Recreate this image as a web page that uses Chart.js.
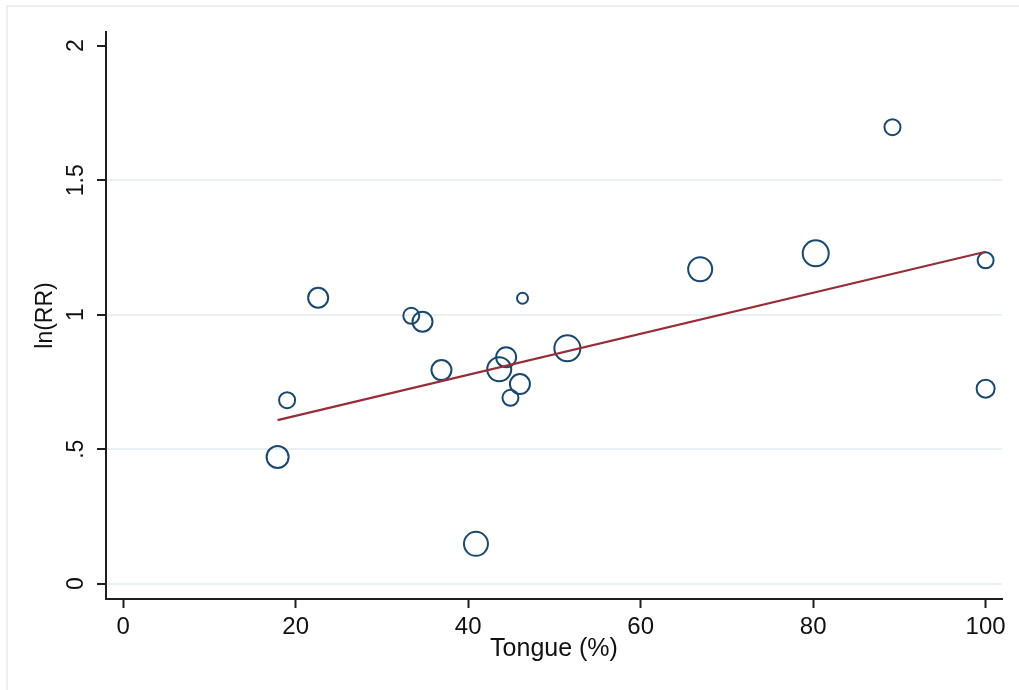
<!DOCTYPE html>
<html>
<head>
<meta charset="utf-8">
<title>ln(RR) vs Tongue (%)</title>
<script src="https://cdn.jsdelivr.net/npm/chart.js@4/dist/chart.umd.min.js"></script>
<style>
    html, body { margin: 0; padding: 0; background: #ffffff; }
    canvas { display: block; }
</style>
</head>
<body>
<canvas id="chart" width="1019" height="690"></canvas>
<script>
// Study points: tongue involvement (%) against ln(RR), bubble size from study weight
const tongue = [17.9, 19.0, 22.6, 33.4, 34.7, 36.9, 40.9, 43.6, 44.4, 44.9, 46.0, 46.3, 51.5, 66.9, 80.3, 89.2, 100, 100];
const lnRR = [0.471, 0.682, 1.063, 0.996, 0.974, 0.794, 0.148, 0.797, 0.842, 0.691, 0.742, 1.061, 0.875, 1.169, 1.228, 1.697, 1.202, 0.725];
const weights = [121, 64, 100, 64, 100, 100, 144, 144, 100, 64, 100, 30, 169, 144, 169, 64, 64, 81];

// Fitted meta-regression line (end points)
const fitX = [17.9, 100];
const fitY = [0.608, 1.234];

// Axis ticks
const xTicks = [0, 20, 40, 60, 80, 100];
const yTicks = [0, 0.5, 1, 1.5, 2];
const yTickLabels = ["0", ".5", "1", "1.5", "2"];

const family = "'Liberation Sans', Arial, sans-serif";
const axisColor = "#1e1e1e";
const textColor = "#111111";

const bubbles = tongue.map((x, i) => ({ x: x, y: lnRR[i], r: Math.sqrt(weights[i]) }));
const fitLine = fitX.map((x, i) => ({ x: x, y: fitY[i] }));

// Light frame round the graph region
const framePlugin = {
    id: "frame",
    beforeDraw(chart) {
        const ctx = chart.ctx;
        ctx.save();
        ctx.strokeStyle = "#e2eaf0";
        ctx.lineWidth = 1.5;
        ctx.strokeRect(7, 6, chart.width + 20, chart.height + 20);
        ctx.restore();
    }
};

new Chart(document.getElementById("chart"), {
    type: "bubble",
    data: {
        datasets: [
            {
                type: "line",
                data: fitLine,
                borderColor: "#962d38",
                borderWidth: 2.2,
                pointRadius: 0,
                fill: false
            },
            {
                data: bubbles,
                borderColor: "#1a476f",
                borderWidth: 2,
                backgroundColor: "rgba(0,0,0,0)"
            }
        ]
    },
    options: {
        responsive: false,
        animation: false,
        devicePixelRatio: 1,
        layout: { padding: { left: 0, right: 17, top: 32, bottom: 0 } },
        plugins: {
            legend: { display: false },
            tooltip: { enabled: false }
        },
        scales: {
            x: {
                type: "linear",
                min: -2.0,
                max: 101.9,
                afterFit(scale) { scale.height = 91; },
                afterBuildTicks(scale) { scale.ticks = xTicks.map(v => ({ value: v })); },
                border: { display: true, color: axisColor, width: 2 },
                grid: {
                    drawOnChartArea: false,
                    drawTicks: true,
                    tickLength: 9,
                    tickColor: axisColor,
                    tickWidth: 2
                },
                ticks: {
                    font: { family: family, size: 24 },
                    color: textColor,
                    padding: 5,
                    maxRotation: 0,
                    callback: (v) => String(v)
                },
                title: {
                    display: true,
                    text: "Tongue (%)",
                    font: { family: family, size: 25 },
                    color: textColor,
                    padding: { top: 0, bottom: 26 }
                }
            },
            y: {
                type: "linear",
                min: -0.057,
                max: 2.051,
                afterFit(scale) { scale.width = 106; },
                afterBuildTicks(scale) { scale.ticks = yTicks.map(v => ({ value: v })); },
                border: { display: true, color: axisColor, width: 2 },
                grid: {
                    drawTicks: true,
                    tickLength: 9,
                    tickColor: axisColor,
                    tickWidth: 2,
                    lineWidth: 2,
                    color: (ctx) => (ctx.tick && ctx.tick.value === 2 ? "rgba(0,0,0,0)" : "#e8f0f3")
                },
                ticks: {
                    font: { family: family, size: 23 },
                    color: textColor,
                    padding: 4,
                    minRotation: 90,
                    maxRotation: 90,
                    crossAlign: "center",
                    callback: (v) => {
                        const i = yTicks.indexOf(v);
                        return i >= 0 ? yTickLabels[i] : "";
                    }
                },
                title: {
                    display: true,
                    text: "ln(RR)",
                    font: { family: family, size: 23 },
                    color: textColor,
                    padding: { top: 32, bottom: 0 }
                }
            }
        }
    },
    plugins: [framePlugin]
});
</script>
</body>
</html>
